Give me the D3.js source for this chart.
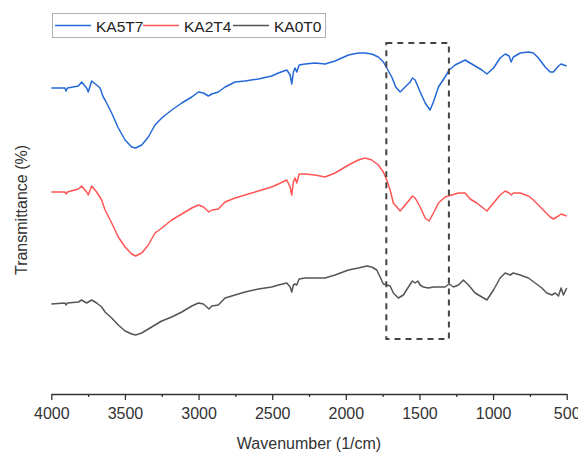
<!DOCTYPE html>
<html>
<head>
<meta charset="utf-8">
<script src="https://cdn.jsdelivr.net/npm/d3@7"></script>
<style>
  html, body { margin: 0; padding: 0; background: #fff; }
  svg { display: block; font-family: "Liberation Sans", Arial, sans-serif; }
</style>
</head>
<body>
<div id="chart"></div>
<script>
// FTIR spectra: [wavenumber (1/cm), transmittance (arb. offset units)]
const ka5t7 = [
  [4000,306],[3907,306],[3900,303],[3890,306],[3816,308],[3794,312],[3760,306],[3749,302],[3726,313],[3692,309],
  [3669,306],[3647,297],[3635,294],[3590,281],[3545,266],[3499,254],[3454,247],[3427,246],[3386,249],[3341,257],
  [3296,269],[3250,276],[3182,284],[3114,291],[3046,297],[3001,302],[2967,301],[2934,298],[2910,300],[2866,302],
  [2820,307],[2752,312],[2684,313],[2594,315],[2503,318],[2458,321],[2401,324],[2378,319],[2367,310],[2356,322],
  [2345,326],[2333,322],[2317,329],[2277,330],[2209,331],[2141,330],[2073,333],[1982,339],[1915,341],[1869,341],
  [1824,340],[1779,337],[1745,332],[1722,326],[1688,317],[1661,307],[1631,302],[1597,307],[1563,312],[1548,316],
  [1529,314],[1495,302],[1461,291],[1428,284],[1405,292],[1371,307],[1326,317],[1298,324],[1258,329],[1190,334],
  [1156,331],[1110,327],[1076,324],[1042,320],[997,326],[952,336],[918,340],[891,338],[877,332],[862,337],
  [816,341],[760,342],[726,341],[692,336],[646,327],[612,322],[590,322],[556,328],[538,330],[500,328]
];
const ka2t4 = [
  [4000,202],[3907,202],[3900,200],[3890,202],[3816,205],[3794,208],[3760,202],[3749,199],[3726,208],[3692,202],
  [3658,194],[3635,184],[3590,171],[3545,157],[3499,147],[3454,140],[3427,138],[3386,141],[3341,149],[3296,161],
  [3250,166],[3182,174],[3114,180],[3046,186],[3001,189],[2967,187],[2929,182],[2910,184],[2866,185],[2820,192],
  [2752,196],[2684,199],[2594,203],[2503,207],[2458,210],[2401,214],[2378,207],[2367,199],[2356,212],[2345,216],
  [2333,211],[2317,220],[2277,220],[2209,219],[2141,217],[2073,221],[1982,229],[1915,234],[1869,236],[1824,234],
  [1779,229],[1745,222],[1722,214],[1699,204],[1677,191],[1631,183],[1597,189],[1563,195],[1548,198],[1529,196],
  [1495,187],[1461,176],[1434,173],[1405,181],[1371,191],[1326,197],[1280,199],[1235,201],[1190,201],[1156,195],
  [1110,191],[1076,187],[1042,183],[997,191],[952,199],[918,203],[891,201],[877,199],[862,201],[816,201],
  [760,198],[726,194],[692,189],[646,182],[612,177],[590,175],[556,178],[538,180],[500,178]
];
const ka0t0 = [
  [4000,90],[3907,91],[3900,89],[3890,91],[3816,92],[3794,94],[3760,91],[3726,94],[3692,91],[3658,87],
  [3635,82],[3590,76],[3545,69],[3499,63],[3454,60],[3427,59],[3386,61],[3341,65],[3296,69],[3250,73],
  [3182,77],[3114,82],[3046,88],[3001,91],[2967,90],[2929,85],[2910,88],[2866,89],[2820,96],[2752,99],
  [2684,102],[2594,105],[2503,107],[2458,109],[2401,111],[2378,107],[2367,102],[2356,109],[2345,110],[2333,109],
  [2317,115],[2277,116],[2209,116],[2141,116],[2073,119],[1982,124],[1915,126],[1858,128],[1824,127],[1790,124],
  [1767,117],[1745,110],[1722,109],[1699,108],[1677,101],[1643,96],[1609,99],[1575,107],[1548,113],[1529,111],
  [1511,113],[1495,109],[1473,107],[1439,106],[1405,107],[1371,107],[1326,107],[1298,110],[1269,107],[1235,109],
  [1201,114],[1167,109],[1122,101],[1076,97],[1042,94],[997,104],[952,116],[918,121],[884,119],[862,121],
  [816,119],[760,116],[714,111],[669,106],[635,101],[601,99],[578,101],[556,98],[538,106],[522,99],[500,106]
];

const seriesNames = ['KA5T7', 'KA2T4', 'KA0T0'];
const seriesData = [ka5t7, ka2t4, ka0t0];
const seriesColors = ['#2468d6', '#ff5555', '#555555'];

const xTicks = [4000, 3500, 3000, 2500, 2000, 1500, 1000, 500];
const xMinorTicks = [3750, 3250, 2750, 2250, 1750, 1250, 750];

// highlighted region (dashed box): wavenumber range and transmittance range
const boxWn = [1725, 1300];
const boxT = [55, 351];

const width = 578, height = 452;
const margin = { top: 14, right: 11.3, bottom: 58, left: 51.3 };
const innerW = width - margin.left - margin.right;
const innerH = height - margin.top - margin.bottom;

const svg = d3.select('#chart').append('svg')
  .attr('width', width)
  .attr('height', height);

const g = svg.append('g').attr('transform', `translate(${margin.left},${margin.top})`);

const x = d3.scaleLinear().domain([4000, 500]).range([0, innerW]);
const y = d3.scaleLinear().domain([0, 380]).range([innerH, 0]);

const line = d3.line().x(d => x(d[0])).y(d => y(d[1]));

// spectra
g.append('g').attr('class', 'lines')
  .selectAll('path')
  .data(seriesData)
  .join('path')
  .attr('d', d => line(d))
  .attr('fill', 'none')
  .attr('stroke', (d, i) => seriesColors[i])
  .attr('stroke-width', 1.5)
  .attr('stroke-linejoin', 'round');

// dashed box around the 1725-1300 region
g.append('rect')
  .attr('x', x(boxWn[0]))
  .attr('y', y(boxT[1]))
  .attr('width', x(boxWn[1]) - x(boxWn[0]))
  .attr('height', y(boxT[0]) - y(boxT[1]))
  .attr('fill', 'none')
  .attr('stroke', '#444')
  .attr('stroke-width', 2)
  .attr('stroke-dasharray', '6,5');

// x axis
const axisColor = '#333';
g.append('g')
  .attr('transform', `translate(0,${innerH})`)
  .call(d3.axisBottom(x).tickValues(xTicks).tickFormat(d3.format('d')).tickSize(6).tickSizeOuter(0).tickPadding(7.5))
  .call(ax => {
    ax.selectAll('path, line').attr('stroke', axisColor).attr('stroke-width', 1.3);
    ax.selectAll('text').attr('fill', axisColor).style('font-size', '16px')
      .style('font-family', '"Liberation Sans", Arial, sans-serif');
  });

g.append('g')
  .attr('transform', `translate(0,${innerH})`)
  .call(d3.axisBottom(x).tickValues(xMinorTicks).tickFormat('').tickSize(3).tickSizeOuter(0))
  .call(ax => {
    ax.select('.domain').remove();
    ax.selectAll('line').attr('stroke', axisColor).attr('stroke-width', 1.3);
  });

// axis titles
svg.append('text')
  .attr('x', margin.left + innerW / 2)
  .attr('y', 449)
  .attr('text-anchor', 'middle')
  .attr('fill', axisColor)
  .style('font-size', '16px')
  .text('Wavenumber (1/cm)');

svg.append('text')
  .attr('transform', 'translate(27,210) rotate(-90)')
  .attr('text-anchor', 'middle')
  .attr('fill', axisColor)
  .style('font-size', '16px')
  .text('Transmittance (%)');

// legend
const legend = svg.append('g').attr('class', 'legend');
legend.append('rect')
  .attr('x', 52.5).attr('y', 13.5)
  .attr('width', 273).attr('height', 24)
  .attr('fill', '#fff')
  .attr('stroke', '#b0b0b0')
  .attr('stroke-width', 1);

const legendX = [55, 143, 233];
seriesNames.forEach((name, i) => {
  const lx = legendX[i];
  legend.append('line')
    .attr('x1', lx).attr('x2', lx + 36)
    .attr('y1', 25.5).attr('y2', 25.5)
    .attr('stroke', seriesColors[i])
    .attr('stroke-width', 1.5);
  legend.append('text')
    .attr('x', lx + 41)
    .attr('y', 31.5)
    .attr('fill', '#222')
    .style('font-size', '15.5px')
    .text(name);
});
</script>
</body>
</html>
